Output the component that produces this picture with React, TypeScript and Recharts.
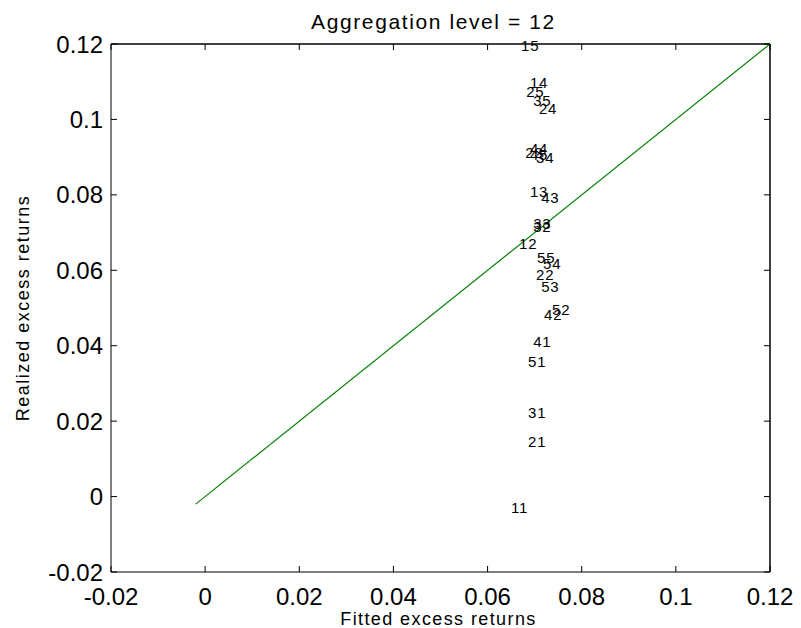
import { ScatterChart, Scatter, XAxis, YAxis, ReferenceLine } from 'recharts'

// portfolio ids (size/value quintiles) and their fitted vs realized excess returns
const portfolios = ['11', '12', '13', '14', '15', '21', '22', '23', '24', '25', '31', '32', '33', '34', '35', '41', '42', '43', '44', '45', '51', '52', '53', '54', '55']
const fitted = [0.0650, 0.0667, 0.0690, 0.0690, 0.0671, 0.0686, 0.0703, 0.0680, 0.0709, 0.0682, 0.0686, 0.0697, 0.0697, 0.0703, 0.0697, 0.0697, 0.0720, 0.0714, 0.0690, 0.0690, 0.0686, 0.0737, 0.0714, 0.0718, 0.0705]
const realized = [-0.0028, 0.0672, 0.0810, 0.1097, 0.1197, 0.0145, 0.0590, 0.0911, 0.1030, 0.1075, 0.0224, 0.0715, 0.0723, 0.0898, 0.1051, 0.0412, 0.0484, 0.0792, 0.0922, 0.0906, 0.0357, 0.0497, 0.0556, 0.0617, 0.0635]

// 45 degree line
const diagX = [-0.002, 0.12]
const diagY = [-0.002, 0.12]

const ticks = [-0.02, 0, 0.02, 0.04, 0.06, 0.08, 0.1, 0.12]
const domain: [number, number] = [-0.02, 0.12]

const points = portfolios.map((name, i) => ({ name, x: fitted[i], y: realized[i] }))
const diagonal = diagX.map((x, i) => ({ x, y: diagY[i] }))

const TICK = 6 // inward tick length, matlab style

const LabelMark = (props: any) => (
  <text x={props.cx} y={props.cy} dominantBaseline="central" fontSize={15} letterSpacing={0.8} fill="#000">
    {props.payload.name}
  </text>
)

const BottomTick = (p: any) => (
  <g>
    <line x1={p.x} x2={p.x} y1={p.y} y2={p.y - TICK} stroke="#000" />
    <text x={p.x} y={p.y + 16} dy="0.71em" textAnchor="middle" fontSize={24} fill="#000">{String(p.payload.value)}</text>
  </g>
)
const LeftTick = (p: any) => (
  <g>
    <line x1={p.x} x2={p.x + TICK} y1={p.y} y2={p.y} stroke="#000" />
    <text x={p.x - 8} y={p.y} dy="0.355em" textAnchor="end" fontSize={24} fill="#000">{String(p.payload.value)}</text>
  </g>
)
const TopTick = (p: any) => <line x1={p.x} x2={p.x} y1={p.y} y2={p.y + TICK} stroke="#000" />
const RightTick = (p: any) => <line x1={p.x} x2={p.x - TICK} y1={p.y} y2={p.y} stroke="#000" />

export default function App() {
  return (
    <div style={{ position: 'absolute', left: 0, top: 0, width: 801, height: 628, background: '#fff', fontFamily: '"Liberation Sans", Arial, Helvetica, sans-serif' }}>
      <ScatterChart width={801} height={628} margin={{ top: 0, right: 0, bottom: 0, left: 0 }}>
        <XAxis
          xAxisId="bottom" dataKey="x" type="number" domain={domain} ticks={ticks} height={56}
          stroke="#000" tickLine={false} tickSize={0} tickMargin={0} tick={BottomTick}
          label={{ value: 'Fitted excess returns', position: 'insideBottom', offset: 3, dx: -2, fill: '#000', fontSize: 18, letterSpacing: 1.4 }}
        />
        <XAxis
          xAxisId="top" orientation="top" dataKey="x" type="number" domain={domain} ticks={ticks} height={44}
          stroke="#000" tickLine={false} tickSize={0} tickMargin={0} tick={TopTick}
          label={{ value: 'Aggregation level = 12', position: 'insideTop', offset: 14, dx: -7, fill: '#000', fontSize: 21, letterSpacing: 1.6 }}
        />
        <YAxis
          yAxisId="left" dataKey="y" type="number" domain={domain} ticks={ticks} width={111}
          stroke="#000" tickLine={false} tickSize={0} tickMargin={0} tick={LeftTick}
          label={{ value: 'Realized excess returns', angle: -90, position: 'insideLeft', offset: 23, fill: '#000', fontSize: 18, letterSpacing: 1.5, style: { textAnchor: 'middle' } }}
        />
        <YAxis
          yAxisId="right" orientation="right" dataKey="y" type="number" domain={domain} ticks={ticks} width={31}
          stroke="#000" tickLine={false} tickSize={0} tickMargin={0} tick={RightTick}
        />
        {/* close the box on top and right */}
        <ReferenceLine xAxisId="bottom" yAxisId="left" y={0.12} stroke="#000" strokeOpacity={1} />
        <ReferenceLine xAxisId="bottom" yAxisId="left" x={0.12} stroke="#000" strokeOpacity={1} />
        <Scatter
          data={diagonal} xAxisId="top" yAxisId="right" fill="#008000"
          line={{ stroke: '#008000', strokeWidth: 1.2 }} shape={() => <g />} isAnimationActive={false}
        />
        <Scatter data={points} xAxisId="bottom" yAxisId="left" shape={LabelMark} isAnimationActive={false} />
      </ScatterChart>
    </div>
  )
}
